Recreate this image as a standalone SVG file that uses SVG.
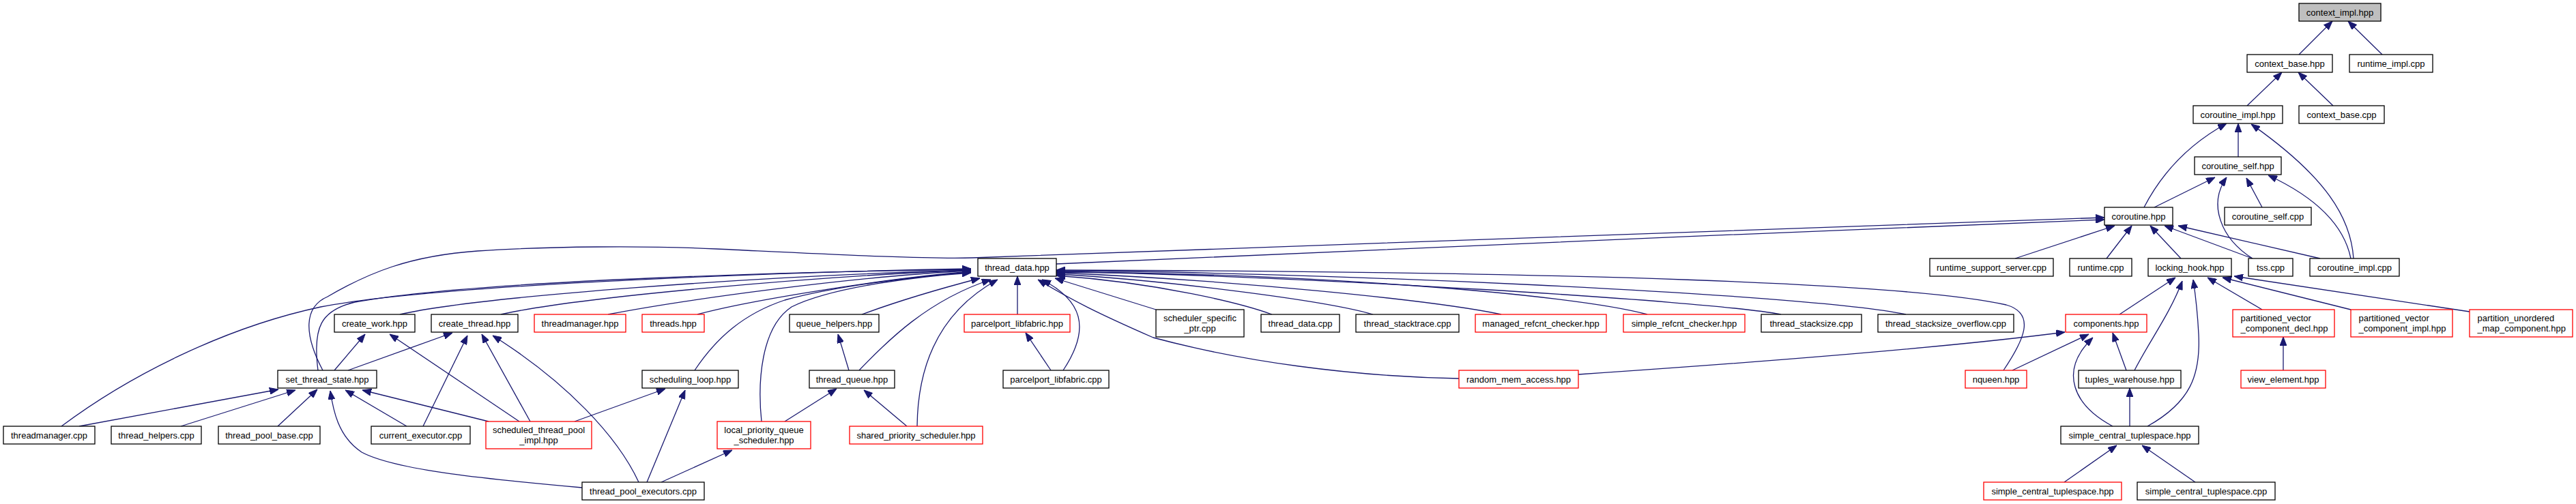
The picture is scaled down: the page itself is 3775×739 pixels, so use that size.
<svg xmlns="http://www.w3.org/2000/svg" width="3775" height="739" viewBox="0 0 3775 739">
<style>
.node rect{fill:#ffffff;stroke:#000000;stroke-width:1.3}
.red rect{stroke:#ff0000}
.root rect{fill:#bfbfbf}
.node text{font-family:"Liberation Sans",Arial,sans-serif;font-size:13px;fill:#000000;text-anchor:middle}
.node text.l{text-anchor:start}
#edges path{fill:none;stroke:#191970;stroke-width:1.3;marker-end:url(#ah)}
</style>
<defs>
<marker id="ah" markerUnits="userSpaceOnUse" viewBox="0 0 13 10" refX="13" refY="5" markerWidth="13" markerHeight="10" orient="auto">
<path d="M0,0 L13,5 L0,10 Z" fill="#191970" stroke="#191970" stroke-width="1"/>
</marker>
</defs>
<rect width="3775" height="739" fill="#ffffff"/>
<g id="edges">
<path d="M3369,80 L3418,31"/>
<path d="M3491,80 L3441,31"/>
<path d="M3293,155 L3344,106"/>
<path d="M3419,155 L3368,106"/>
<path d="M3280,230 L3280,181"/>
<path d="M3142,304 C3170,250 3210,210 3263,181"/>
<path d="M3449,379 C3445,320 3410,260 3299,182"/>
<path d="M3445,379 C3435,330 3395,290 3324,257"/>
<path d="M3157,304 L3246,260"/>
<path d="M3301,379 C3255,350 3235,300 3263,260"/>
<path d="M3315,304 L3292,261"/>
<path d="M2953,379 L3099,331"/>
<path d="M3087,379 L3124,331"/>
<path d="M3196,379 L3151,331"/>
<path d="M3301,379 L3172,331"/>
<path d="M3400,379 L3192,331"/>
<path d="M1548,387 C1900,372 2600,340 3084,322"/>
<path d="M473,543 C445,490 445,450 480,435 C540,400 600,375 700,368 C800,361 950,360 1050,365 C1200,372 1350,380 1425,378 C1700,372 2600,333 3084,319"/>
<path d="M466,543 C458,480 470,455 520,443 C700,410 1200,398 1423,395"/>
<path d="M90,625 C190,550 330,480 470,450 C650,415 1200,398 1423,394"/>
<path d="M586,461 C700,435 1100,405 1423,396"/>
<path d="M734,461 C850,435 1200,405 1423,396"/>
<path d="M891,461 C1000,440 1250,405 1423,397"/>
<path d="M1022,461 C1100,440 1300,408 1423,398"/>
<path d="M1018,543 C1050,495 1090,460 1150,440 C1230,418 1350,405 1423,399"/>
<path d="M1116,618 C1110,560 1115,480 1160,450 C1220,420 1350,405 1423,400"/>
<path d="M1263,461 C1320,440 1390,420 1436,408"/>
<path d="M1259,543 C1300,500 1360,440 1452,410"/>
<path d="M1344,625 C1345,530 1380,455 1462,410"/>
<path d="M1491,461 L1491,405"/>
<path d="M1540,543 L1503,488"/>
<path d="M1558,543 C1600,480 1585,440 1527,410"/>
<path d="M2138,555 C1980,552 1820,530 1690,495 C1610,460 1570,440 1521,410"/>
<path d="M1694,454 L1546,408"/>
<path d="M1864,461 C1820,445 1700,415 1548,404"/>
<path d="M2012,461 C1940,440 1700,410 1548,402"/>
<path d="M2200,461 C2100,440 1800,410 1548,400"/>
<path d="M2414,461 C2300,430 1900,400 1548,399"/>
<path d="M2610,461 C2500,440 1900,405 1548,398"/>
<path d="M2793,461 C2650,430 1900,398 1548,397"/>
<path d="M2936,543 C2965,500 2985,460 2940,447 C2800,415 2300,398 1548,396"/>
<path d="M716,618 L531,572"/>
<path d="M761,618 L571,490"/>
<path d="M777,618 L706,490"/>
<path d="M842,618 L975,570"/>
<path d="M853,715 C720,703 580,690 530,663 C495,640 488,600 484,573"/>
<path d="M936,707 C905,640 830,560 722,492"/>
<path d="M948,707 L1004,572"/>
<path d="M969,707 L1073,660"/>
<path d="M596,625 L506,572"/>
<path d="M620,625 L685,492"/>
<path d="M490,543 L535,490"/>
<path d="M510,543 L663,488"/>
<path d="M1150,618 L1226,570"/>
<path d="M1244,543 L1228,490"/>
<path d="M1329,625 L1266,572"/>
<path d="M116,625 L408,571"/>
<path d="M265,625 L433,572"/>
<path d="M407,625 L465,571"/>
<path d="M2313,549 C2550,533 2850,510 3026,487"/>
<path d="M2949,543 L3061,490"/>
<path d="M3116,543 L3096,488"/>
<path d="M3096,625 C3040,595 3015,545 3067,495"/>
<path d="M3106,461 L3188,407"/>
<path d="M3128,543 C3150,500 3180,460 3198,412"/>
<path d="M3147,625 C3210,590 3225,550 3222,490 C3220,450 3217,430 3214,410"/>
<path d="M3315,454 L3235,407"/>
<path d="M3445,454 L3257,407"/>
<path d="M3619,457 L3274,405"/>
<path d="M3346,543 L3346,494"/>
<path d="M3121,625 L3121,569"/>
<path d="M3025,707 L3102,653"/>
<path d="M3217,707 L3139,653"/>
</g>
<g id="context_impl_hpp" class="node root"><rect x="3369" y="5" width="120" height="26"/><text x="3429" y="22.5">context_impl.hpp</text></g>
<g id="context_base_hpp" class="node"><rect x="3293" y="80" width="125" height="26"/><text x="3355.5" y="97.5">context_base.hpp</text></g>
<g id="runtime_impl_cpp" class="node"><rect x="3443" y="80" width="122" height="26"/><text x="3504" y="97.5">runtime_impl.cpp</text></g>
<g id="coroutine_impl_hpp" class="node"><rect x="3214" y="155" width="131" height="26"/><text x="3279.5" y="172.5">coroutine_impl.hpp</text></g>
<g id="context_base_cpp" class="node"><rect x="3369" y="155" width="125" height="26"/><text x="3431.5" y="172.5">context_base.cpp</text></g>
<g id="coroutine_self_hpp" class="node"><rect x="3216" y="230" width="127" height="26"/><text x="3279.5" y="247.5">coroutine_self.hpp</text></g>
<g id="coroutine_hpp" class="node"><rect x="3084" y="304" width="100" height="26"/><text x="3134" y="321.5">coroutine.hpp</text></g>
<g id="coroutine_self_cpp" class="node"><rect x="3260" y="304" width="127" height="26"/><text x="3323.5" y="321.5">coroutine_self.cpp</text></g>
<g id="thread_data_hpp" class="node"><rect x="1433" y="379" width="115" height="26"/><text x="1490.5" y="396.5">thread_data.hpp</text></g>
<g id="runtime_support_server_cpp" class="node"><rect x="2828" y="379" width="181" height="26"/><text x="2918.5" y="396.5">runtime_support_server.cpp</text></g>
<g id="runtime_cpp" class="node"><rect x="3033" y="379" width="91" height="26"/><text x="3078.5" y="396.5">runtime.cpp</text></g>
<g id="locking_hook_hpp" class="node"><rect x="3148" y="379" width="122" height="26"/><text x="3209" y="396.5">locking_hook.hpp</text></g>
<g id="tss_cpp" class="node"><rect x="3295" y="379" width="65" height="26"/><text x="3327.5" y="396.5">tss.cpp</text></g>
<g id="coroutine_impl_cpp" class="node"><rect x="3385" y="379" width="131" height="26"/><text x="3450.5" y="396.5">coroutine_impl.cpp</text></g>
<g id="create_work_hpp" class="node"><rect x="490" y="461" width="118" height="26"/><text x="549" y="478.5">create_work.hpp</text></g>
<g id="create_thread_hpp" class="node"><rect x="632" y="461" width="127" height="26"/><text x="695.5" y="478.5">create_thread.hpp</text></g>
<g id="threadmanager_hpp" class="node red"><rect x="783" y="461" width="134" height="26"/><text x="850" y="478.5">threadmanager.hpp</text></g>
<g id="threads_hpp" class="node red"><rect x="941" y="461" width="91" height="26"/><text x="986.5" y="478.5">threads.hpp</text></g>
<g id="queue_helpers_hpp" class="node"><rect x="1157" y="461" width="131" height="26"/><text x="1222.5" y="478.5">queue_helpers.hpp</text></g>
<g id="parcelport_libfabric_hpp" class="node red"><rect x="1413" y="461" width="155" height="26"/><text x="1490.5" y="478.5">parcelport_libfabric.hpp</text></g>
<g id="scheduler_specific_ptr_cpp" class="node"><rect x="1694" y="454" width="129" height="40"/><text x="1758.5" y="470.5">scheduler_specific</text><text x="1758.5" y="485.5">_ptr.cpp</text></g>
<g id="thread_data_cpp" class="node"><rect x="1848" y="461" width="115" height="26"/><text x="1905.5" y="478.5">thread_data.cpp</text></g>
<g id="thread_stacktrace_cpp" class="node"><rect x="1987" y="461" width="151" height="26"/><text x="2062.5" y="478.5">thread_stacktrace.cpp</text></g>
<g id="managed_refcnt_checker_hpp" class="node red"><rect x="2162" y="461" width="192" height="26"/><text x="2258" y="478.5">managed_refcnt_checker.hpp</text></g>
<g id="simple_refcnt_checker_hpp" class="node red"><rect x="2379" y="461" width="178" height="26"/><text x="2468" y="478.5">simple_refcnt_checker.hpp</text></g>
<g id="thread_stacksize_cpp" class="node"><rect x="2581" y="461" width="147" height="26"/><text x="2654.5" y="478.5">thread_stacksize.cpp</text></g>
<g id="thread_stacksize_overflow_cpp" class="node"><rect x="2752" y="461" width="199" height="26"/><text x="2851.5" y="478.5">thread_stacksize_overflow.cpp</text></g>
<g id="components_hpp" class="node red"><rect x="3027" y="461" width="119" height="26"/><text x="3086.5" y="478.5">components.hpp</text></g>
<g id="partitioned_vector_component_decl_hpp" class="node red"><rect x="3272" y="454" width="149" height="40"/><text class="l" x="3283.5" y="470.5">partitioned_vector</text><text class="l" x="3283.5" y="485.5">_component_decl.hpp</text></g>
<g id="partitioned_vector_component_impl_hpp" class="node red"><rect x="3445" y="454" width="149" height="40"/><text class="l" x="3456.5" y="470.5">partitioned_vector</text><text class="l" x="3456.5" y="485.5">_component_impl.hpp</text></g>
<g id="partition_unordered_map_component_hpp" class="node red"><rect x="3619" y="454" width="151" height="40"/><text class="l" x="3630.5" y="470.5">partition_unordered</text><text class="l" x="3630.5" y="485.5">_map_component.hpp</text></g>
<g id="set_thread_state_hpp" class="node"><rect x="407" y="543" width="145" height="26"/><text x="479.5" y="560.5">set_thread_state.hpp</text></g>
<g id="scheduling_loop_hpp" class="node"><rect x="941" y="543" width="141" height="26"/><text x="1011.5" y="560.5">scheduling_loop.hpp</text></g>
<g id="thread_queue_hpp" class="node"><rect x="1186" y="543" width="125" height="26"/><text x="1248.5" y="560.5">thread_queue.hpp</text></g>
<g id="parcelport_libfabric_cpp" class="node"><rect x="1470" y="543" width="155" height="26"/><text x="1547.5" y="560.5">parcelport_libfabric.cpp</text></g>
<g id="random_mem_access_hpp" class="node red"><rect x="2138" y="543" width="175" height="26"/><text x="2225.5" y="560.5">random_mem_access.hpp</text></g>
<g id="nqueen_hpp" class="node red"><rect x="2880" y="543" width="90" height="26"/><text x="2925" y="560.5">nqueen.hpp</text></g>
<g id="tuples_warehouse_hpp" class="node"><rect x="3046" y="543" width="150" height="26"/><text x="3121" y="560.5">tuples_warehouse.hpp</text></g>
<g id="view_element_hpp" class="node red"><rect x="3284" y="543" width="124" height="26"/><text x="3346" y="560.5">view_element.hpp</text></g>
<g id="threadmanager_cpp" class="node"><rect x="5" y="625" width="134" height="26"/><text x="72" y="642.5">threadmanager.cpp</text></g>
<g id="thread_helpers_cpp" class="node"><rect x="163" y="625" width="132" height="26"/><text x="229" y="642.5">thread_helpers.cpp</text></g>
<g id="thread_pool_base_cpp" class="node"><rect x="320" y="625" width="149" height="26"/><text x="394.5" y="642.5">thread_pool_base.cpp</text></g>
<g id="current_executor_cpp" class="node"><rect x="544" y="625" width="145" height="26"/><text x="616.5" y="642.5">current_executor.cpp</text></g>
<g id="scheduled_thread_pool_impl_hpp" class="node red"><rect x="712" y="618" width="155" height="40"/><text x="789.5" y="634.5">scheduled_thread_pool</text><text x="789.5" y="649.5">_impl.hpp</text></g>
<g id="local_priority_queue_scheduler_hpp" class="node red"><rect x="1051" y="618" width="137" height="40"/><text x="1119.5" y="634.5">local_priority_queue</text><text x="1119.5" y="649.5">_scheduler.hpp</text></g>
<g id="shared_priority_scheduler_hpp" class="node red"><rect x="1245" y="625" width="195" height="26"/><text x="1342.5" y="642.5">shared_priority_scheduler.hpp</text></g>
<g id="simple_central_tuplespace_hpp" class="node"><rect x="3020" y="625" width="202" height="26"/><text x="3121" y="642.5">simple_central_tuplespace.hpp</text></g>
<g id="thread_pool_executors_cpp" class="node"><rect x="853" y="707" width="179" height="26"/><text x="942.5" y="724.5">thread_pool_executors.cpp</text></g>
<g id="simple_central_tuplespace_hpp_2" class="node red"><rect x="2907" y="707" width="202" height="26"/><text x="3008" y="724.5">simple_central_tuplespace.hpp</text></g>
<g id="simple_central_tuplespace_cpp" class="node"><rect x="3132" y="707" width="202" height="26"/><text x="3233" y="724.5">simple_central_tuplespace.cpp</text></g>
</svg>
